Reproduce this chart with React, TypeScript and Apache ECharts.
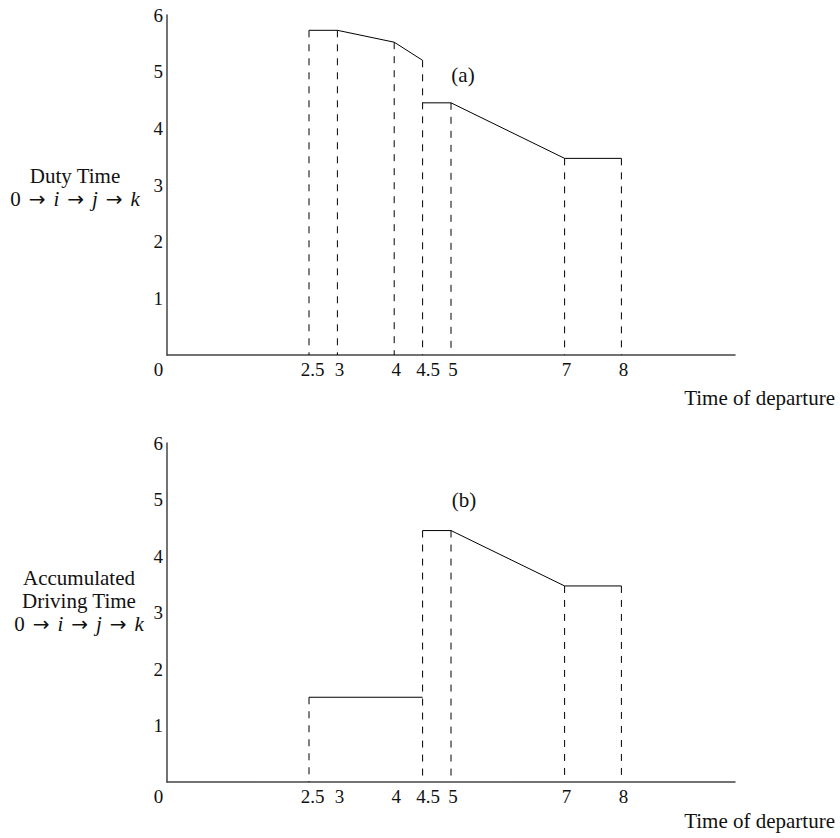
import React, { useEffect, useRef } from 'react';
import * as echarts from 'echarts';

// ---- data ----
const xTickValues = [0, 2.5, 3, 4, 4.5, 5, 7, 8];
const yTickValues = [1, 2, 3, 4, 5, 6];

// (a) Duty time
const dutyLeftX = [2.5, 3, 4, 4.5];
const dutyLeftY = [5.73, 5.73, 5.52, 5.2];
const dutyRightX = [4.5, 5, 7, 8];
const dutyRightY = [4.45, 4.45, 3.47, 3.47];
const dutyDropX = [2.5, 3, 4, 4.5, 5, 7, 8];
const dutyDropY = [5.73, 5.73, 5.52, 5.2, 4.45, 3.47, 3.47];

// (b) Accumulated driving time
const drivingLeftX = [2.5, 4.5];
const drivingLeftY = [1.5, 1.5];
const drivingRightX = [4.5, 5, 7, 8];
const drivingRightY = [4.45, 4.45, 3.47, 3.47];
const drivingDropX = [2.5, 4.5, 5, 7, 8];
const drivingDropY = [1.5, 4.45, 4.45, 3.47, 3.47];

const pathLine = '0{a|→}{i|i}{a|→}{i|j}{a|→}{i|k}';
const dutyLabelLines = ['Duty Time', pathLine];
const drivingLabelLines = ['Accumulated', 'Driving Time', pathLine];
const xName = 'Time of departure';

const FONT = '"Liberation Serif", "Times New Roman", serif';
const FS = 21; // texts
const TFS = 19; // tick labels

const zip = (xs: number[], ys: number[]) => xs.map((x, i) => [x, ys[i]]);

function solid(g: number, xs: number[], ys: number[]) {
  return {
    type: 'line',
    xAxisIndex: g,
    yAxisIndex: g,
    data: zip(xs, ys),
    symbol: 'none',
    silent: true,
    lineStyle: { color: '#000', width: 1 },
  };
}

function drops(g: number, xs: number[], ys: number[]) {
  return xs.map((x, i) => ({
    type: 'line',
    xAxisIndex: g,
    yAxisIndex: g,
    data: [
      [x, ys[i]],
      [x, 0],
    ],
    symbol: 'none',
    silent: true,
    lineStyle: { color: '#000', width: 1, type: [7, 7] },
  }));
}

const richBase = { fontFamily: FONT, fontSize: TFS, color: '#111' };

function xAxis(g: number) {
  return {
    type: 'value',
    gridIndex: g,
    min: 0,
    max: 10,
    axisLine: { show: true, lineStyle: { color: '#444', width: 1.5 } },
    axisTick: { show: false },
    splitLine: { show: false },
    axisLabel: {
      customValues: xTickValues,
      margin: 5,
      fontFamily: FONT,
      fontSize: TFS,
      color: '#111',
      formatter: (v: number) => {
        if (v === 0) return '{o|0}';
        if (v === 2.5) return '{a|2.5}';
        if (v === 4.5) return '{b|4.5}';
        return '{n|' + v + '}';
      },
      rich: {
        o: { ...richBase, padding: [0, 17, 0, 0] },
        a: { ...richBase, padding: [0, 0, 0, 7] },
        b: { ...richBase, padding: [0, 0, 0, 11] },
        n: { ...richBase, padding: [0, 0, 0, 4] },
      },
    },
  };
}

function yAxis(g: number) {
  return {
    type: 'value',
    gridIndex: g,
    min: 0,
    max: 6,
    interval: 1,
    axisLine: { show: true, lineStyle: { color: '#444', width: 1.5 } },
    axisTick: { show: false },
    splitLine: { show: false },
    axisLabel: {
      customValues: yTickValues,
      margin: 4,
      fontFamily: FONT,
      fontSize: TFS,
      color: '#111',
    },
  };
}

function textLines(lines: string[], cx: number, cy: number, lh: number) {
  return lines.map((t, i) => ({
    type: 'text',
    x: cx,
    y: cy + i * lh,
    silent: true,
    style: {
      text: t,
      fill: '#111',
      fontFamily: FONT,
      fontSize: FS,
      align: 'center',
      verticalAlign: 'middle',
      rich: {
        i: { fontFamily: FONT, fontSize: FS, fontStyle: 'italic', fill: '#111' },
        a: {
          fontFamily: '"DejaVu Sans", sans-serif',
          fontSize: FS - 1,
          fill: '#111',
          padding: [0, 8, 0, 8],
        },
      },
    },
  }));
}

function plainText(t: string, x: number, y: number, align: string) {
  return {
    type: 'text',
    x,
    y,
    silent: true,
    style: {
      text: t,
      fill: '#111',
      fontFamily: FONT,
      fontSize: FS,
      align,
      verticalAlign: 'middle',
    },
  };
}

export default function App() {
  const ref = useRef<HTMLDivElement>(null);
  useEffect(() => {
    if (!ref.current) return;
    const chart = echarts.init(ref.current, undefined, { renderer: 'svg' });
    chart.setOption({
      animation: false,
      backgroundColor: '#fff',
      grid: [
        { left: 167, top: 15, width: 568, height: 340 },
        { left: 167, top: 443, width: 568, height: 339 },
      ],
      xAxis: [xAxis(0), xAxis(1)],
      yAxis: [yAxis(0), yAxis(1)],
      series: [
        solid(0, dutyLeftX, dutyLeftY),
        solid(0, dutyRightX, dutyRightY),
        ...drops(0, dutyDropX, dutyDropY),
        solid(1, drivingLeftX, drivingLeftY),
        solid(1, drivingRightX, drivingRightY),
        ...drops(1, drivingDropX, drivingDropY),
      ],
      graphic: [
        ...textLines(dutyLabelLines, 75, 176, 23),
        ...textLines(drivingLabelLines, 79, 578, 23),
        plainText(xName, 835, 398, 'right'),
        plainText(xName, 835, 821, 'right'),
        plainText('(a)', 463, 75, 'center'),
        plainText('(b)', 464, 500, 'center'),
      ],
    });
    return () => chart.dispose();
  }, []);
  return (
    <div
      ref={ref}
      style={{ position: 'fixed', left: 0, top: 0, width: 840, height: 838 }}
    />
  );
}
